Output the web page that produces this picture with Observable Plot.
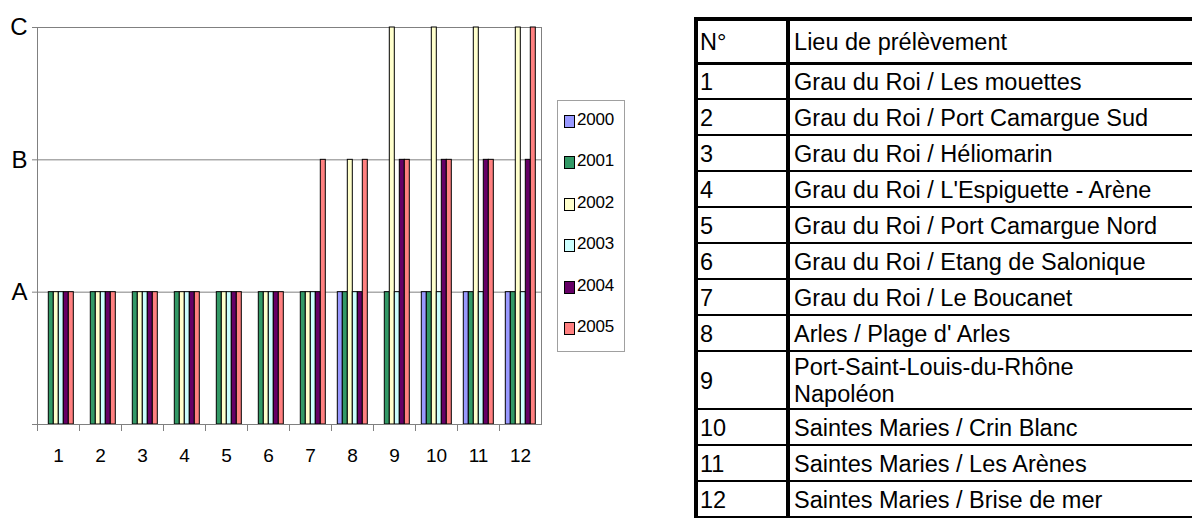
<!DOCTYPE html>
<html>
<head>
<meta charset="utf-8">
<script src="https://cdn.jsdelivr.net/npm/d3@7"></script>
<script src="https://cdn.jsdelivr.net/npm/@observablehq/plot@0.6"></script>
<style>
  html, body { margin: 0; padding: 0; background: #fff; width: 1192px; height: 519px; overflow: hidden; }
  #chart { position: absolute; left: 0; top: 0; }
  #legend { position: absolute; left: 557px; top: 100px; width: 68px; height: 252px; border: 1px solid #a0a0a0; box-sizing: border-box; font-family: "Liberation Sans", Arial, sans-serif; }
  .item { position: absolute; left: 6px; display: flex; align-items: flex-start; }
  .sw { width: 9px; height: 11px; border: 1px solid #000; margin-top: 4px; margin-right: 2px; }
  .lab { font-size: 17px; line-height: 17px; color: #000; letter-spacing: -0.2px; }
  #tbl { position: absolute; left: 694px; top: 17px; border-collapse: collapse; font-family: "Liberation Sans", Arial, sans-serif; font-size: 23.5px; color: #000; }
  #tbl td { border-top: 2px solid #000; border-bottom: 2px solid #000; padding: 2px 0 0 2px; vertical-align: middle; line-height: 27px; white-space: pre-line; }
  #tbl td.n { border-left: 4px solid #000; border-right: 4px solid #000; width: 91px; }
  #tbl td.l { width: 420px; padding-left: 4px; }
  #tbl tr.h td { border-top: 4px solid #000; border-bottom: 3px solid #000; }
</style>
</head>
<body>
<div id="chart"></div>
<div id="legend"></div>
<table id="tbl"></table>
<script>
const sites = [1, 2, 3, 4, 5, 6, 7, 8, 9, 10, 11, 12];
const years = ["2000", "2001", "2002", "2003", "2004", "2005"];
const colors = ["#9999ff", "#339966", "#ffffcc", "#ccffff", "#660066", "#ff8080"];
const levelTicks = [0, 1, 2, 3];
const levelLabels = ["", "A", "B", "C"];
// quality levels per site (1 = A, 2 = B, 3 = C, null = no sample)
const v2000 = [null, null, null, null, null, null, null, 1, null, 1, 1, 1];
const v2001 = [1, 1, 1, 1, 1, 1, 1, 1, 1, 1, 1, 1];
const v2002 = [1, 1, 1, 1, 1, 1, 1, 2, 3, 3, 3, 3];
const v2003 = [1, 1, 1, 1, 1, 1, 1, 1, 1, 1, 1, 1];
const v2004 = [1, 1, 1, 1, 1, 1, 1, 1, 2, 2, 2, 2];
const v2005 = [1, 1, 1, 1, 1, 1, 2, 2, 2, 2, 2, 3];
const tableHeader = ["N°", "Lieu de prélèvement"];
const siteNames = [
  "Grau du Roi / Les mouettes",
  "Grau du Roi / Port Camargue Sud",
  "Grau du Roi / Héliomarin",
  "Grau du Roi / L'Espiguette - Arène",
  "Grau du Roi / Port Camargue Nord",
  "Grau du Roi / Etang de Salonique",
  "Grau du Roi / Le Boucanet",
  "Arles / Plage d' Arles",
  "Port-Saint-Louis-du-Rhône\nNapoléon",
  "Saintes Maries / Crin Blanc",
  "Saintes Maries / Les Arènes",
  "Saintes Maries / Brise de mer"
];

const series = [v2000, v2001, v2002, v2003, v2004, v2005];
const data = [];
sites.forEach((s, i) => years.forEach((y, j) => {
  const v = series[j][i];
  if (v != null) data.push({site: s, year: y, value: v});
}));

const W = 545, H = 480, mL = 35.7, mR = 3, mT = 27, mB = 56;
const innerH = H - mT - mB;
const grey = "#808080";

const chart = Plot.plot({
  width: W, height: H,
  marginLeft: mL, marginRight: mR, marginTop: mT, marginBottom: mB,
  style: {fontFamily: "'Liberation Sans', Arial, sans-serif", background: "#fff", overflow: "visible"},
  fx: {domain: sites, padding: 0, label: null, axis: null},
  x: {domain: years, paddingInner: 0, paddingOuter: 0.81, axis: null},
  y: {domain: [0, 3], axis: null, label: null},
  color: {domain: years, range: colors},
  marks: [
    Plot.ruleY([1, 2, 3], {stroke: grey, strokeWidth: 1}),
    Plot.frame({anchor: "right", stroke: grey, facet: "super"}),
    Plot.frame({anchor: "left", stroke: grey, insetTop: innerH, insetBottom: -6}),
    Plot.barY(data, {fx: "site", x: "year", y: "value", fill: "year", stroke: "#000", strokeWidth: 1}),
    Plot.ruleY([0], {stroke: grey, strokeWidth: 1}),
    Plot.frame({anchor: "left", stroke: grey, facet: "super"}),
    Plot.axisY({ticks: levelTicks, tickFormat: d => levelLabels[d], tickSize: 5, tickPadding: 5, fontSize: 24, stroke: grey, fill: "#000", label: null}),
    Plot.axisFx({anchor: "bottom", tickSize: 0, tickPadding: 24, fontSize: 19, label: null, fill: "#000"})
  ]
});
document.getElementById("chart").appendChild(chart);

// legend
const legend = document.getElementById("legend");
years.forEach((y, i) => {
  const it = document.createElement("div");
  it.className = "item";
  it.style.top = (10 + i * 41.4) + "px";
  const sw = document.createElement("div");
  sw.className = "sw";
  sw.style.background = colors[i];
  const lb = document.createElement("span");
  lb.className = "lab";
  lb.textContent = y;
  it.appendChild(sw); it.appendChild(lb);
  legend.appendChild(it);
});

// table
const tbl = document.getElementById("tbl");
function addRow(a, b, cls, h) {
  const tr = document.createElement("tr");
  if (cls) tr.className = cls;
  tr.style.height = h + "px";
  const td1 = document.createElement("td"); td1.className = "n"; td1.textContent = a;
  const td2 = document.createElement("td"); td2.className = "l"; td2.textContent = b;
  tr.appendChild(td1); tr.appendChild(td2);
  tbl.appendChild(tr);
}
addRow(tableHeader[0], tableHeader[1], "h", 44);
sites.forEach((s, i) => addRow(String(s), siteNames[i], "", siteNames[i].includes("\n") ? 58 : 36));
</script>
</body>
</html>
